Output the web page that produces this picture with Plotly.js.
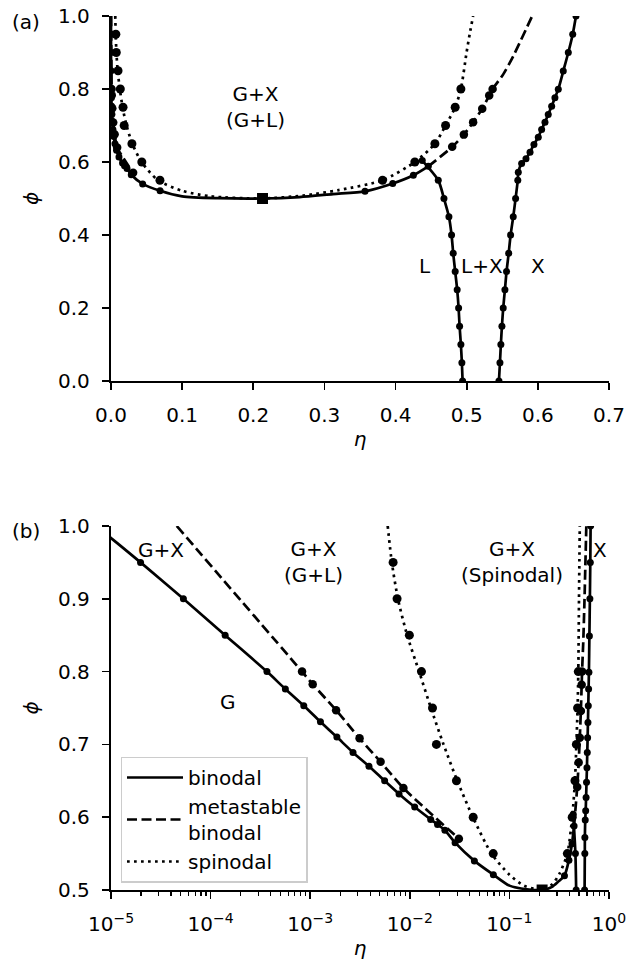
<!DOCTYPE html>
<html>
<head>
<meta charset="utf-8">
<script src="https://cdn.plot.ly/plotly-3.0.1.min.js"></script>
<style>
  html, body { margin: 0; padding: 0; background: #ffffff; }
  #chart { width: 636px; height: 960px; }
</style>
</head>
<body>
<div id="chart"></div>
<script>
// ---- phase-diagram data: packing fraction eta vs. reservoir fraction phi ----

// gas–liquid binodal (through the critical point) joined to the gas–crystal branch
const gasCurveEta = [7e-6, 1.03e-5, 1.98e-5, 5.33e-5, 1.4e-4, 3.68e-4, 5.63e-4, 8.62e-4, 1.267e-3, 1.853e-3,
                     2.69e-3, 3.89e-3, 5.59e-3, 7.8e-3, 0.0112, 0.0162, 0.0190, 0.0225, 0.0285, 0.0445,
                     0.069, 0.10, 0.15, 0.213, 0.265, 0.312, 0.357, 0.396, 0.425, 0.446];
const gasCurvePhi = [1.0, 0.982, 0.95, 0.90, 0.85, 0.80, 0.776, 0.753, 0.731, 0.710,
                     0.689, 0.670, 0.650, 0.632, 0.614, 0.597, 0.590, 0.582, 0.565, 0.540,
                     0.521, 0.506, 0.501, 0.500, 0.504, 0.512, 0.5196, 0.541, 0.5636, 0.588];
const gasPointsEta = [1.98e-5, 5.33e-5, 1.4e-4, 3.68e-4, 5.63e-4, 8.62e-4, 1.267e-3, 1.853e-3, 2.69e-3, 3.89e-3,
                      5.59e-3, 7.8e-3, 0.0112, 0.0162, 0.0190, 0.0225, 0.0285, 0.0445, 0.069,
                      0.357, 0.396, 0.425, 0.446];
const gasPointsPhi = [0.95, 0.90, 0.85, 0.80, 0.776, 0.753, 0.731, 0.710, 0.689, 0.670,
                      0.650, 0.632, 0.614, 0.597, 0.590, 0.582, 0.565, 0.540, 0.521,
                      0.5196, 0.541, 0.5636, 0.588];

// liquid side of the liquid–crystal coexistence
const liquidEta = [0.4375, 0.460, 0.468, 0.475, 0.4787, 0.481, 0.4838, 0.4866, 0.4886, 0.490, 0.4918, 0.4932, 0.4942];
const liquidPhi = [0.604, 0.55, 0.50, 0.45, 0.40, 0.35, 0.30, 0.25, 0.20, 0.15, 0.10, 0.05, 0.0];

// crystal side
const crystalEta = [0.5453, 0.5467, 0.548, 0.5495, 0.5513, 0.5537, 0.556, 0.559, 0.5617, 0.5654, 0.5687, 0.5718,
                    0.5725, 0.5772, 0.5833, 0.589, 0.5945, 0.6006, 0.6053, 0.610, 0.6146, 0.6194, 0.624,
                    0.6287, 0.6357, 0.6428, 0.649, 0.6536];
const crystalPhi = [0.0, 0.05, 0.10, 0.15, 0.20, 0.25, 0.30, 0.35, 0.40, 0.45, 0.50, 0.55,
                    0.572, 0.596, 0.609, 0.627, 0.648, 0.668, 0.689, 0.709, 0.730, 0.753, 0.776,
                    0.799, 0.849, 0.90, 0.95, 1.0];

// metastable gas–liquid binodal above the triple point (dense branch)
const metaDenseEta = [0.446, 0.4796, 0.496, 0.509, 0.5218, 0.5316, 0.5364, 0.5513, 0.5654, 0.592];
const metaDensePhi = [0.588, 0.6415, 0.675, 0.709, 0.7458, 0.782, 0.80, 0.84, 0.89, 1.0];
const metaDensePtsEta = [0.4796, 0.496, 0.509, 0.5218, 0.5316, 0.5364];
const metaDensePtsPhi = [0.6415, 0.675, 0.709, 0.7458, 0.782, 0.80];

// metastable binodal, dilute branch
const metaDiluteEta = [4.57e-5, 8.28e-4, 1.06e-3, 1.82e-3, 3.13e-3, 5.09e-3, 8.63e-3, 0.0311];
const metaDilutePhi = [1.0, 0.80, 0.7826, 0.747, 0.7084, 0.676, 0.640, 0.5705];
const metaDilutePtsEta = [8.28e-4, 1.06e-3, 1.82e-3, 3.13e-3, 5.09e-3, 8.63e-3, 0.0311];
const metaDilutePtsPhi = [0.80, 0.7826, 0.747, 0.7084, 0.676, 0.640, 0.5705];

// spinodal: smooth curve and computed points
const spinodalEta = [0.0060, 0.0066, 0.0076, 0.0094, 0.0124, 0.0163, 0.0218, 0.0300, 0.0430, 0.066,
                     0.10, 0.14, 0.213, 0.27, 0.32, 0.3817, 0.4271, 0.4553, 0.4703,
                     0.4838, 0.4918, 0.4998, 0.5045, 0.509];
const spinodalPhi = [1.0, 0.95, 0.90, 0.85, 0.80, 0.75, 0.70, 0.65, 0.60, 0.55,
                     0.521, 0.506, 0.500, 0.508, 0.523, 0.55, 0.60, 0.65, 0.70,
                     0.75, 0.80, 0.90, 0.954, 1.0];
const spinodalPtsEta = [0.0068, 0.00745, 0.0099, 0.0131, 0.0169, 0.0185, 0.0294, 0.0433, 0.0688,
                        0.3817, 0.4271, 0.4553, 0.4703, 0.4838, 0.4918];
const spinodalPtsPhi = [0.95, 0.90, 0.85, 0.80, 0.75, 0.70, 0.65, 0.60, 0.55,
                        0.55, 0.60, 0.65, 0.70, 0.75, 0.80];

// gas–liquid critical point
const criticalEta = [0.213];
const criticalPhi = [0.5];

// legend names and log-axis tick labels
const seriesNames = ['binodal', 'metastable<br>binodal', 'spinodal'];
const logTickVals = [1e-5, 1e-4, 1e-3, 1e-2, 1e-1, 1];
const logTickText = ['10<sup>\u22125</sup>', '10<sup>\u22124</sup>', '10<sup>\u22123</sup>',
                     '10<sup>\u22122</sup>', '10<sup>\u22121</sup>', '10<sup>0</sup>'];

// ---- styling ----
const FONT = 'DejaVu Sans, sans-serif';
const FS = 20;
const LW = 2.7;
const SOLID = 'solid';
const DASHED = '10px,4.5px';
const DOTTED = '2.7px,4.3px';

const traces = [];
const panels = [['x', 'y'], ['x2', 'y2']];

function addCurve(eta, phi, dash, name, legendOn) {
  panels.forEach(([xa, ya], i) => {
    traces.push({
      type: 'scatter', mode: 'lines', x: eta, y: phi, xaxis: xa, yaxis: ya,
      line: { color: '#000000', width: LW, dash: dash, shape: 'spline', smoothing: 0.7 },
      name: name || '', showlegend: !!(legendOn && i === 1),
      hoverinfo: 'skip'
    });
  });
}
function addPoints(eta, phi, size, symbol) {
  panels.forEach(([xa, ya]) => {
    traces.push({
      type: 'scatter', mode: 'markers', x: eta, y: phi, xaxis: xa, yaxis: ya,
      marker: { color: '#000000', size: size, symbol: symbol || 'circle', line: { width: 0 } },
      showlegend: false, hoverinfo: 'skip'
    });
  });
}

addCurve(gasCurveEta, gasCurvePhi, SOLID, seriesNames[0], true);
addCurve(metaDiluteEta, metaDilutePhi, DASHED, seriesNames[1], true);
addCurve(spinodalEta, spinodalPhi, DOTTED, seriesNames[2], true);
addCurve(liquidEta, liquidPhi, SOLID);
addCurve(crystalEta, crystalPhi, SOLID);
addCurve(metaDenseEta, metaDensePhi, DASHED);

addPoints(gasPointsEta, gasPointsPhi, 7);
addPoints(liquidEta, liquidPhi, 7);
addPoints(crystalEta, crystalPhi, 7);
addPoints(metaDensePtsEta, metaDensePtsPhi, 8.5);
addPoints(metaDilutePtsEta, metaDilutePtsPhi, 8.5);
addPoints(spinodalPtsEta, spinodalPtsPhi, 9);
addPoints(criticalEta, criticalPhi, 11, 'square');

const axisCommon = {
  showline: true, linecolor: '#000000', linewidth: 1.7, mirror: false,
  showgrid: false, zeroline: false,
  ticks: 'outside', ticklen: 7.5, tickwidth: 1.7, tickcolor: '#000000',
  tickfont: { family: FONT, size: FS, color: '#000000' },
  ticklabelstandoff: 8
};

function minorLogTicks() {
  const v = [];
  for (let p = -5; p < 0; p++) for (let k = 2; k <= 9; k++) v.push(k * Math.pow(10, p));
  return v;
}

const textFont = { family: FONT, size: FS, color: '#000000' };
function label(text, x, y, xref, yref) {
  return { text: text, x: x, y: y, xref: xref, yref: yref, showarrow: false,
           font: textFont, xanchor: 'center', yanchor: 'middle', align: 'center' };
}
const L10 = Math.log10;

const layout = {
  width: 636, height: 960,
  paper_bgcolor: '#ffffff', plot_bgcolor: '#ffffff',
  margin: { l: 111, r: 27, t: 16, b: 70 },
  showlegend: true,
  font: textFont,
  xaxis: Object.assign({}, axisCommon, {
    domain: [0, 1], anchor: 'y', range: [0, 0.7], dtick: 0.1, tick0: 0, tickformat: '.1f',
    title: { text: '<i>η</i>', font: textFont, standoff: 6 }
  }),
  yaxis: Object.assign({}, axisCommon, {
    domain: [0.5824, 1], anchor: 'x', range: [0, 1], dtick: 0.2, tick0: 0, tickformat: '.1f',
    title: { text: '<i>ϕ</i>', font: textFont, standoff: 14 }
  }),
  xaxis2: Object.assign({}, axisCommon, {
    domain: [0, 1], anchor: 'y2', type: 'log', range: [-5, 0],
    tickmode: 'array', tickvals: logTickVals, ticktext: logTickText,
    minor: { tickmode: 'array', tickvals: minorLogTicks(), ticks: 'outside', ticklen: 4.2,
             tickwidth: 1.2, tickcolor: '#000000', showgrid: false },
    title: { text: '<i>η</i>', font: textFont, standoff: 6 }
  }),
  yaxis2: Object.assign({}, axisCommon, {
    domain: [0, 0.4165], anchor: 'x2', range: [0.5, 1.0], dtick: 0.1, tick0: 0.5, tickformat: '.1f',
    title: { text: '<i>ϕ</i>', font: textFont, standoff: 14 }
  }),
  legend: {
    x: 0.0195, y: 0.1525, xanchor: 'left', yanchor: 'top',
    xref: 'paper', yref: 'paper',
    bgcolor: 'rgba(255,255,255,0.85)', bordercolor: '#cccccc', borderwidth: 1.3,
    font: textFont, tracegroupgap: 0, itemwidth: 56
  },
  annotations: [
    label('(a)', -0.171, 0.9935, 'paper', 'paper'),
    label('(b)', -0.171, 0.4108, 'paper', 'paper'),
    label('G+X<br>(G+L)', 0.2035, 0.75, 'x', 'y'),
    label('L', 0.441, 0.315, 'x', 'y'),
    label('L+X', 0.521, 0.315, 'x', 'y'),
    label('X', 0.6006, 0.315, 'x', 'y'),
    label('G+X', L10(3.17e-5), 0.967, 'x2', 'y2'),
    label('G+X<br>(G+L)', L10(1.08e-3), 0.951, 'x2', 'y2'),
    label('G+X<br>(Spinodal)', L10(0.1067), 0.951, 'x2', 'y2'),
    label('X', L10(0.808), 0.967, 'x2', 'y2'),
    label('G', L10(1.5e-4), 0.7587, 'x2', 'y2')
  ]
};

Plotly.newPlot('chart', traces, layout, { staticPlot: true, displayModeBar: false });
</script>
</body>
</html>
